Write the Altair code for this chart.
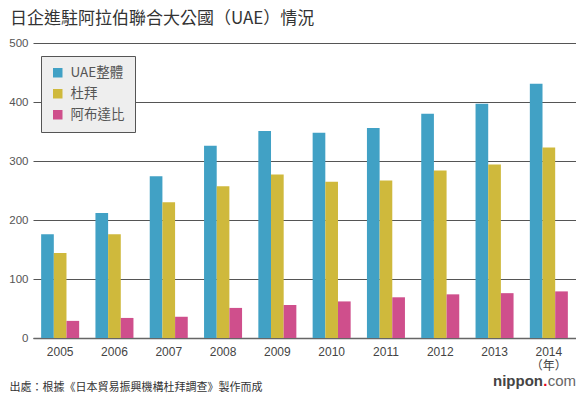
import altair as alt
import pandas as pd

years = ["2005", "2006", "2007", "2008", "2009", "2010", "2011", "2012", "2013", "2014"]
series = ["UAE整體", "杜拜", "阿布達比"]
uae = [176, 212, 274, 326, 351, 348, 356, 380, 397, 431]
dubai = [144, 176, 230, 257, 277, 265, 267, 284, 294, 323]
abudhabi = [29, 34, 36, 51, 56, 62, 69, 74, 76, 79]
colors = ["#41a1c5", "#cfb93c", "#cf4f8c"]

rows = []
for name, vals in zip(series, [uae, dubai, abudhabi]):
    for y, v in zip(years, vals):
        rows.append({"year": y, "series": name, "value": v})
df = pd.DataFrame(rows)

NUM_FONT = "Liberation Sans, Noto Sans CJK TC"
CJK_FONT = "Noto Sans CJK TC"
LEFT = 25
W, H = 568 - LEFT, 295

bars = alt.Chart(df).mark_bar().encode(
    x=alt.X("year:N", sort=years,
            scale=alt.Scale(paddingInner=0.3, paddingOuter=0.15),
            axis=alt.Axis(
                title="出處：根據《日本貿易振興機構杜拜調查》製作而成",
                titleFont=CJK_FONT, titleFontSize=11, titleFontWeight="normal",
                titleColor="#333", titleX=-LEFT + 1, titleY=49, titleAlign="left",
                titleBaseline="middle",
                labelAngle=0, labelFont=NUM_FONT, labelFontSize=12,
                labelColor="#444", labelPadding=8, ticks=False,
                labelExpr="datum.value == '2014' ? ['2014', '（年）'] : datum.value",
                labelLineHeight=14,
                domainColor="#666", domainWidth=1.5,
            )),
    xOffset=alt.XOffset("series:N", sort=series, scale=alt.Scale(paddingInner=0)),
    y=alt.Y("value:Q", scale=alt.Scale(domain=[0, 500]),
            axis=alt.Axis(title=None, values=[0, 100, 200, 300, 400, 500],
                          labelFont=NUM_FONT, labelFontSize=11.5, labelColor="#555",
                          labelPadding=5, ticks=False, domain=False,
                          gridColor="#555", gridWidth=1)),
    color=alt.Color("series:N", sort=series,
                    scale=alt.Scale(domain=series, range=colors),
                    legend=alt.Legend(title=None, orient="none", legendX=8, legendY=13,
                                      fillColor="#eeeeee", strokeColor="#555",
                                      padding=10, symbolType="square", symbolSize=90,
                                      symbolStrokeWidth=0,
                                      labelFont=CJK_FONT, labelFontSize=13.5,
                                      labelColor="#555", rowPadding=6,
                                      labelOffset=6)),
)

logo_nippon = alt.Chart(pd.DataFrame({"t": ["nippon"]})).mark_text(
    align="right", baseline="middle", font=NUM_FONT, fontSize=15,
    fontWeight="bold", color="#444").encode(
    text="t:N", x=alt.value(W - 33), y=alt.value(H + 43))
logo_dot = alt.Chart(pd.DataFrame({"t": ["."]})).mark_text(
    align="right", baseline="middle", font=NUM_FONT, fontSize=15,
    fontWeight="bold", color="#e5001c").encode(
    text="t:N", x=alt.value(W - 28.5), y=alt.value(H + 43))
logo_com = alt.Chart(pd.DataFrame({"t": ["com"]})).mark_text(
    align="right", baseline="middle", font=NUM_FONT, fontSize=15,
    color="#666").encode(
    text="t:N", x=alt.value(W), y=alt.value(H + 43))

chart = alt.layer(bars, logo_nippon, logo_dot, logo_com).properties(
    width=W, height=H,
    autosize=alt.AutoSizeParams(type="none"),
    padding={"left": LEFT, "top": 35, "right": 0, "bottom": 56},
    title=alt.TitleParams("日企進駐阿拉伯聯合大公國（UAE）情況", anchor="start",
                          frame="group", dx=-LEFT + 2, offset=9, font=CJK_FONT,
                          fontSize=17, fontWeight="normal", color="#333"),
).configure_view(stroke=None)

chart.save("out.html", embed_options={"renderer": "svg", "actions": False})
